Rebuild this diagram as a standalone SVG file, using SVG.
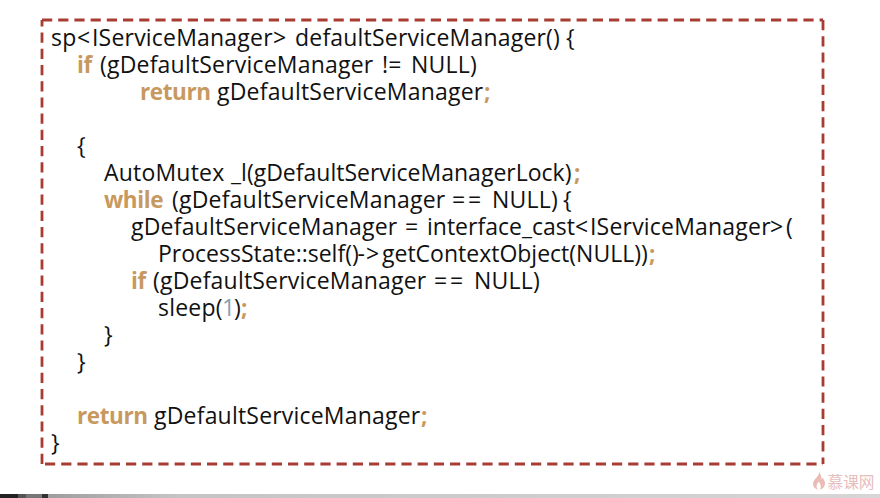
<svg xmlns="http://www.w3.org/2000/svg" width="880" height="498" viewBox="0 0 880 498">
<defs>
<linearGradient id="bar" x1="0" x2="1" y1="0" y2="0"><stop offset="0" stop-color="#8f8f8f"/><stop offset="0.2" stop-color="#c4c4c4"/><stop offset="1" stop-color="#d6d6d6"/></linearGradient>
</defs>
<style>
text{font-family:"Open Sans","Noto Sans","Liberation Sans",sans-serif;font-size:23px;letter-spacing:.2px;fill:#111}
.k{fill:#c8995f;font-weight:700;font-size:22.5px;letter-spacing:-.4px}
.n{fill:#7f9fb5}
.t{letter-spacing:0}
.w{font-family:"Noto Sans CJK SC",sans-serif;font-size:15.500px;letter-spacing:0;fill:#e8bdbd}
.d{fill:none;stroke:#a83c32;stroke-width:2.800;stroke-dasharray:10.200 6}
</style>
<rect width="880" height="498" fill="#fff"/>
<g id="frame">
<path class="d" d="M42 20H823"/>
<path class="d" d="M823 20V464"/>
<path class="d" d="M45 464H823"/>
<path class="d" d="M42 464V20"/>
</g>
<g id="code">
<text y="46"><tspan x="51">sp</tspan><tspan x="77">&lt;</tspan><tspan x="92">IServiceManager</tspan><tspan x="273">&gt;</tspan><tspan x="295">defaultServiceManager()</tspan><tspan x="566">{</tspan></text>
<text y="73"><tspan class="k" x="77">if</tspan><tspan x="100">(gDefaultServiceManager</tspan><tspan x="382">!=</tspan><tspan x="411">NULL)</tspan></text>
<text y="100"><tspan class="k" x="140">return</tspan><tspan x="217">gDefaultServiceManager</tspan><tspan class="k" x="484">;</tspan></text>
<text x="77" y="154">{</text>
<text y="181"><tspan x="104">AutoMutex</tspan><tspan class="t" x="231">_l(gDefaultServiceManagerLock)</tspan><tspan class="k" x="574">;</tspan></text>
<text y="208"><tspan class="k" x="104">while</tspan><tspan x="172">(gDefaultServiceManager</tspan><tspan x="452">=</tspan><tspan x="468">=</tspan><tspan x="492">NULL)</tspan><tspan x="563">{</tspan></text>
<text y="235"><tspan x="131">gDefaultServiceManager</tspan><tspan x="405">=</tspan><tspan class="t" x="427">interface_cast</tspan><tspan x="575">&lt;</tspan><tspan x="590">IServiceManager</tspan><tspan x="770">&gt;</tspan><tspan x="786">(</tspan></text>
<text y="262"><tspan class="t" x="158">ProcessState::self()</tspan><tspan x="357.500">-</tspan><tspan x="366">&gt;</tspan><tspan class="t" x="382">getContextObject(NULL))</tspan><tspan class="k" x="649">;</tspan></text>
<text y="289"><tspan class="k" x="131">if</tspan><tspan x="153">(gDefaultServiceManager</tspan><tspan x="434">=</tspan><tspan x="450">=</tspan><tspan x="474">NULL)</tspan></text>
<text y="316"><tspan x="158">sleep(</tspan><tspan class="n" x="222">1</tspan><tspan x="234">)</tspan><tspan class="k" x="241">;</tspan></text>
<text x="104" y="343">}</text>
<text x="77" y="370">}</text>
<text y="424"><tspan class="k" x="77">return</tspan><tspan x="154">gDefaultServiceManager</tspan><tspan class="k" x="421">;</tspan></text>
<text x="51" y="451">}</text>
</g>
<g id="watermark">
<path d="M819 472c1 4-6 7-6 12 0 3 3 5.500 5 5.500-2-2-2-5 1-8 1 3 3 4 1 8 3-.500 5-3 5-6 0-3-1.500-4-2.500-6l-1 2c0-3-1-6-2.500-7.500z" fill="#ebbcb6"/>
<text class="w" x="827.500" y="488" textLength="47" lengthAdjust="spacingAndGlyphs">慕课网</text>
</g>
<g id="bottom-strip">
<rect x="0" y="494" width="880" height="4" fill="url(#bar)"/>
<rect x="0" y="494" width="18" height="4" fill="#222"/>
<rect x="18" y="494" width="8" height="4" fill="#555"/>
<rect x="26" y="494" width="16" height="4" fill="#777"/>
<rect x="42" y="494" width="6" height="4" fill="#333"/>
</g>
</svg>
